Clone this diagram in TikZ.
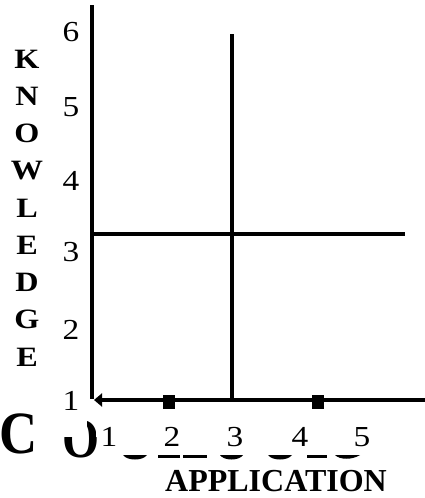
\documentclass[tikz,border=0pt]{standalone}
\usepackage{fontspec}
\usepackage{graphicx}
\setmainfont{Liberation Serif}
\usetikzlibrary{arrows.meta}
\newcommand{\widen}[2][1.15]{\scalebox{#1}[1]{#2}}
\begin{document}
\begin{tikzpicture}[x=1pt,y=-1pt,
  axisline/.style={line width=4.5pt,black},
  digit/.style={inner sep=0pt,font=\fontsize{29}{29}\selectfont},
  vletter/.style={inner sep=0pt,font=\bfseries\fontsize{28}{28}\selectfont},
  sq/.style={fill=black,minimum width=12pt,minimum height=14pt,inner sep=0pt}]
\useasboundingbox (0,0) rectangle (425,498);
% axes
\coordinate (ytop) at (92,5);
\coordinate (ybot) at (92,399);
\coordinate (xright) at (425,400);
\coordinate (xleft) at (94,400);
\draw[axisline] (ytop) -- (ybot);
\draw[axisline,-{Triangle[length=8pt,width=13pt]}] (xright) -- (xleft);
% quadrant lines
\coordinate (vtop) at (232,34);
\coordinate (vbot) at (232,400);
\coordinate (hleft) at (93,234);
\coordinate (hright) at (405,234);
\draw[axisline] (vtop) -- (vbot);
\draw[axisline] (hleft) -- (hright);
% tick squares
\node[sq] (sq1) at (169,402) {};
\node[sq] (sq2) at (318,402) {};
% y digits
\node[digit] (y6) at (71,32) {\widen{6}};
\node[digit] (y5) at (71,107) {\widen{5}};
\node[digit] (y4) at (71,181) {\widen{4}};
\node[digit] (y3) at (71,252) {\widen{3}};
\node[digit] (y2) at (71,330) {\widen{2}};
% big partial word (drawn before the "1" labels)
\node[inner sep=0pt,font=\bfseries\fontsize{60}{60}\selectfont] (bigc) at (19,434) {\scalebox{0.88}[1]{C}};
\begin{scope}
  \clip (55,437) rectangle (100,462) (87,417) rectangle (95,440);
  \node[inner sep=0pt,font=\bfseries\fontsize{56}{56}\selectfont] (bigo) at (81,439) {\scalebox{0.85}[1]{O}};
\end{scope}
\fill (123,455) .. controls (127,461) and (143,461) .. (147,455) -- cycle;
\fill (158,455) rectangle (180,458);
\fill (183,455) rectangle (207,458);
\fill (220,455) .. controls (224,461) and (239,461) .. (243,455) -- cycle;
\fill (268,455) .. controls (272,461) and (288,461) .. (292,455) -- cycle;
\fill (307,455) rectangle (327,458);
\fill (335,455) .. controls (340,460) and (352,460) .. (360,455) -- cycle;
\node[digit] (y1) at (71,401) {\widen{1}};
% vertical letters
\foreach \l [count=\i from 0] in {K,N,O,W,L,E,D,G,E}{
  \node[vletter] (v\i) at (27,59+37.25*\i) {\widen{\l}};
}
% x digits
\node[digit] (x1) at (109,437) {\widen{1}};
\node[digit] (x2) at (172,437) {\widen{2}};
\node[digit] (x3) at (235,437) {\widen{3}};
\node[digit] (x4) at (300,437) {\widen{4}};
\node[digit] (x5) at (362,437) {\widen{5}};
% axis title
\node[inner sep=0pt,font=\bfseries\fontsize{32}{32}\selectfont] (app) at (276,481) {APPLICATION};
\end{tikzpicture}
\end{document}
